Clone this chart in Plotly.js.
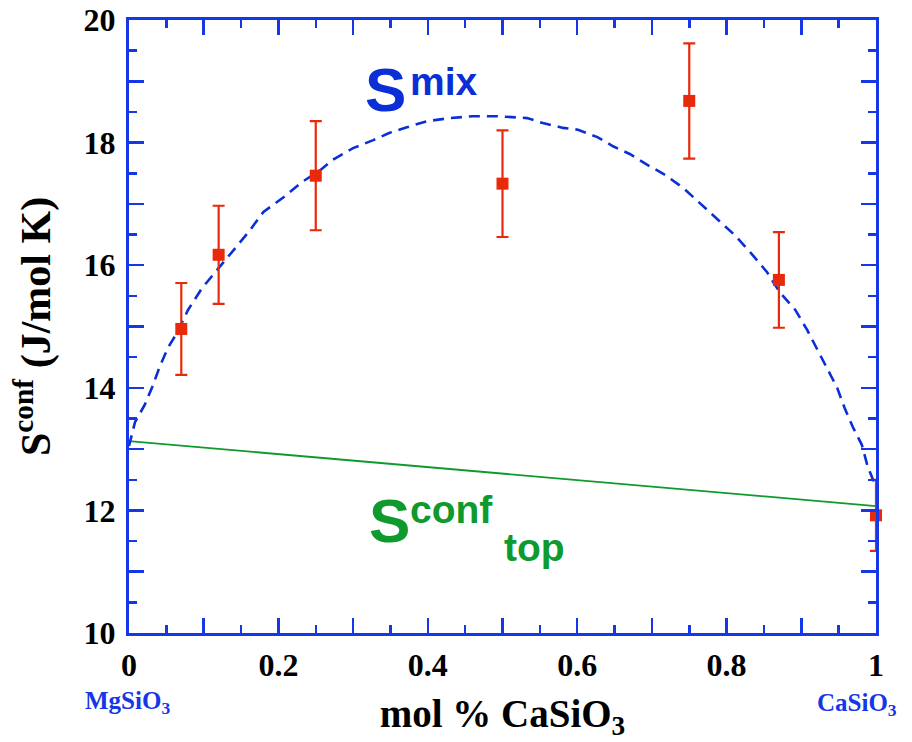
<!DOCTYPE html>
<html>
<head>
<meta charset="utf-8">
<script src="https://cdn.plot.ly/plotly-3.0.1.min.js"></script>
<style>
  html, body { margin: 0; padding: 0; background: #ffffff; }
  #chart { width: 912px; height: 742px; }
</style>
</head>
<body>
<div id="chart"></div>
<script>
// Measured configurational entropy across the MgSiO3–CaSiO3 join
const measX   = [0.07, 0.12, 0.25, 0.50, 0.75, 0.87, 1.00];
const measY   = [14.96, 16.17, 17.46, 17.33, 18.68, 15.76, 11.92];
const measErr = [0.75, 0.80, 0.89, 0.87, 0.94, 0.78, 0.58];

// Ideal mixing entropy curve (S mix)
const mixX = [0, 0.008, 0.021, 0.031, 0.041, 0.052, 0.064, 0.079, 0.098, 0.118,
              0.140, 0.160, 0.180, 0.206, 0.232, 0.256, 0.273, 0.300, 0.327, 0.349,
              0.372, 0.399, 0.430, 0.460, 0.493, 0.533, 0.554, 0.581, 0.601, 0.627,
              0.648, 0.671, 0.695, 0.718, 0.742, 0.764, 0.788, 0.811, 0.831, 0.854,
              0.871, 0.892, 0.908, 0.922, 0.934, 0.948, 0.958, 0.969, 0.981, 0.989,
              0.996, 1.0];
const mixY = [13.05, 13.44, 13.72, 14.01, 14.34, 14.65, 14.89, 15.27, 15.63, 15.92,
              16.25, 16.54, 16.87, 17.10, 17.36, 17.55, 17.72, 17.91, 18.04, 18.16,
              18.25, 18.35, 18.40, 18.43, 18.43, 18.40, 18.32, 18.24, 18.21, 18.09,
              17.94, 17.81, 17.63, 17.47, 17.26, 17.01, 16.74, 16.49, 16.22, 15.89,
              15.56, 15.27, 14.94, 14.62, 14.32, 14.00, 13.67, 13.36, 13.07, 12.71,
              12.50, 12.42];

// Topological configurational entropy (linear between end members)
const topX = [0, 1];
const topY = [13.13, 12.07];

// Labelled ticks, plus the unlabelled long ticks in between
const xTickVals = [0, 0.2, 0.4, 0.6, 0.8, 1.0];
const xTickText = ['0', '0.2', '0.4', '0.6', '0.8', '1'];
const xMidTicks = [0.1, 0.3, 0.5, 0.7, 0.9];
const yTickVals = [10, 12, 14, 16, 18, 20];
const yTickText = ['10', '12', '14', '16', '18', '20'];
const yMidTicks = [11, 13, 15, 17, 19];

const AXIS_BLUE = '#1537e6';
const RED = '#e82a0a';
const MIX_BLUE = '#0b2fd6';
const GREEN = '#0f9a2e';
const SERIF = 'Liberation Serif, Times New Roman, serif';
const SANS = 'Liberation Sans, Arial, Helvetica, sans-serif';

const traces = [
  {
    x: topX, y: topY, type: 'scatter', mode: 'lines',
    line: { color: GREEN, width: 1.8 },
    hoverinfo: 'skip', showlegend: false
  },
  {
    x: mixX, y: mixY, type: 'scatter', mode: 'lines',
    line: { color: MIX_BLUE, width: 2.6, dash: '11px,7px' },
    hoverinfo: 'skip', showlegend: false
  },
  {
    x: measX, y: measY, type: 'scatter', mode: 'markers',
    marker: { symbol: 'square', size: 12, color: RED },
    error_y: { type: 'data', array: measErr, visible: true, color: RED, thickness: 2.2, width: 6 },
    cliponaxis: false,
    showlegend: false
  },
  // carrier for the overlay axes that hold the in-between long ticks
  { x: [], y: [], xaxis: 'x2', yaxis: 'y2', type: 'scatter', mode: 'markers',
    showlegend: false, hoverinfo: 'skip' }
];

const axisCommon = {
  showgrid: false, zeroline: false,
  showline: true, linecolor: AXIS_BLUE, linewidth: 3,
  mirror: 'ticks',
  ticks: 'inside', ticklen: 15, tickwidth: 2.5, tickcolor: AXIS_BLUE,
  tickmode: 'array',
  tickfont: { family: SERIF, size: 32, color: '#000000', weight: 'bold' },
  fixedrange: true
};

const layout = {
  width: 912, height: 742,
  margin: { l: 129, r: 36, t: 20, b: 109 },
  paper_bgcolor: '#ffffff', plot_bgcolor: '#ffffff',
  xaxis: Object.assign({}, axisCommon, {
    range: [0, 1],
    tickvals: xTickVals, ticktext: xTickText,
    ticklabelstandoff: 2,
    minor: { dtick: 0.05, ticks: 'inside', ticklen: 8, tickwidth: 2.5, tickcolor: AXIS_BLUE },
    title: {
      text: 'mol % CaSiO<sub>3</sub>',
      font: { family: SERIF, size: 39, color: '#000000', weight: 'bold' },
      standoff: 18
    }
  }),
  yaxis: Object.assign({}, axisCommon, {
    range: [10, 20],
    tickvals: yTickVals, ticktext: yTickText,
    ticklabelstandoff: 4,
    minor: { dtick: 0.5, ticks: 'inside', ticklen: 8, tickwidth: 2.5, tickcolor: AXIS_BLUE },
    title: {
      text: 'S<sup>conf</sup> (J/mol K)',
      font: { family: SERIF, size: 42, color: '#000000', weight: 'bold' },
      standoff: 20
    }
  }),
  xaxis2: Object.assign({}, axisCommon, {
    overlaying: 'x', anchor: 'y', range: [0, 1],
    tickvals: xMidTicks, showticklabels: false
  }),
  yaxis2: Object.assign({}, axisCommon, {
    overlaying: 'y', anchor: 'x', range: [10, 20],
    tickvals: yMidTicks, showticklabels: false
  }),
  annotations: [
    // S mix label
    { xref: 'x', yref: 'y', x: 0.313, y: 18.87, xanchor: 'left', yanchor: 'middle',
      text: 'S', showarrow: false,
      font: { family: SANS, size: 62, color: MIX_BLUE, weight: 'bold' } },
    { xref: 'x', yref: 'y', x: 0.374, y: 18.99, xanchor: 'left', yanchor: 'middle',
      text: 'mix', showarrow: false,
      font: { family: SANS, size: 39, color: MIX_BLUE, weight: 'bold' } },
    // S conf top label
    { xref: 'x', yref: 'y', x: 0.318, y: 11.84, xanchor: 'left', yanchor: 'middle',
      text: 'S', showarrow: false,
      font: { family: SANS, size: 62, color: GREEN, weight: 'bold' } },
    { xref: 'x', yref: 'y', x: 0.374, y: 12.02, xanchor: 'left', yanchor: 'middle',
      text: 'conf', showarrow: false,
      font: { family: SANS, size: 39, color: GREEN, weight: 'bold' } },
    { xref: 'x', yref: 'y', x: 0.4995, y: 11.40, xanchor: 'left', yanchor: 'middle',
      text: 'top', showarrow: false,
      font: { family: SANS, size: 39, color: GREEN, weight: 'bold' } },
    // end-member labels under the x axis
    { xref: 'paper', yref: 'paper', x: -0.061, y: -0.114, xanchor: 'left', yanchor: 'middle',
      text: 'MgSiO<sub>3</sub>', showarrow: false,
      font: { family: SERIF, size: 25, color: AXIS_BLUE, weight: 'bold' } },
    { xref: 'paper', yref: 'paper', x: 0.918, y: -0.117, xanchor: 'left', yanchor: 'middle',
      text: 'CaSiO<sub>3</sub>', showarrow: false,
      font: { family: SERIF, size: 25, color: AXIS_BLUE, weight: 'bold' } }
  ]
};

Plotly.newPlot('chart', traces, layout, { displayModeBar: false, staticPlot: true });
</script>
</body>
</html>
